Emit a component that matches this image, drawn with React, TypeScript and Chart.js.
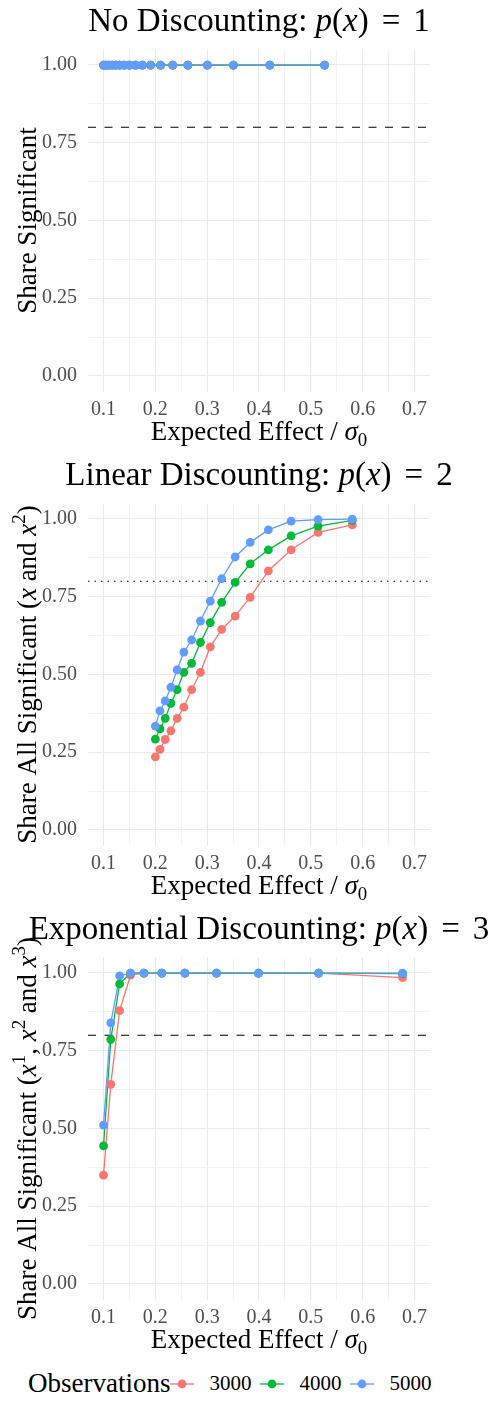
import React, { useEffect, useRef } from 'react';
import { Chart, registerables } from 'chart.js';

Chart.register(...registerables);

// ---- Data ----------------------------------------------------------------

const seriesLabels = ['3000', '4000', '5000'];
const seriesColors = ['#F8766D', '#00BA38', '#619CFF'];

// No discounting
const noDiscX = [0.1, 0.105, 0.1105, 0.1167, 0.1235, 0.1313, 0.14, 0.15, 0.1616, 0.1751, 0.191, 0.2101, 0.2335, 0.2628, 0.3004, 0.3506, 0.4209, 0.5265];
const noDisc3000 = [1, 1, 1, 1, 1, 1, 1, 1, 1, 1, 1, 1, 1, 1, 1, 1, 1, 1];
const noDisc4000 = [1, 1, 1, 1, 1, 1, 1, 1, 1, 1, 1, 1, 1, 1, 1, 1, 1, 1];
const noDisc5000 = [1, 1, 1, 1, 1, 1, 1, 1, 1, 1, 1, 1, 1, 1, 1, 1, 1, 1];

// Linear discounting
const linX = [0.2, 0.209, 0.219, 0.23, 0.242, 0.255, 0.27, 0.287, 0.306, 0.328, 0.354, 0.383, 0.418, 0.462, 0.514, 0.58];
const lin3000 = [0.235, 0.259, 0.291, 0.319, 0.359, 0.395, 0.451, 0.507, 0.589, 0.645, 0.688, 0.748, 0.833, 0.901, 0.957, 0.981];
const lin4000 = [0.292, 0.325, 0.359, 0.407, 0.451, 0.507, 0.536, 0.603, 0.667, 0.732, 0.796, 0.856, 0.901, 0.946, 0.977, 0.996];
const lin5000 = [0.334, 0.383, 0.415, 0.459, 0.515, 0.572, 0.611, 0.672, 0.736, 0.808, 0.878, 0.925, 0.965, 0.993, 0.998, 1.0];

// Exponential discounting
const expX = [0.1, 0.114, 0.131, 0.152, 0.178, 0.2125, 0.257, 0.318, 0.399, 0.515, 0.677];
const exp3000 = [0.35, 0.642, 0.879, 0.993, 1, 1, 1, 1, 1, 1, 0.985];
const exp4000 = [0.444, 0.787, 0.965, 1, 1, 1, 1, 1, 1, 1, 0.998];
const exp5000 = [0.511, 0.84, 0.991, 1, 1, 1, 1, 1, 1, 1, 1];

// Power threshold
const powerTarget = 0.8;

// Axes
const xLimits = [0.07, 0.73];
const yLimits = [-0.05, 1.05];
const xMajorTicks = [0.1, 0.2, 0.3, 0.4, 0.5, 0.6, 0.7];
const xMajorLabels = ['0.1', '0.2', '0.3', '0.4', '0.5', '0.6', '0.7'];
const xMinorTicks = [0.15, 0.25, 0.35, 0.45, 0.55, 0.65];
const yMajorTicks = [0, 0.25, 0.5, 0.75, 1];
const yMajorLabels = ['0.00', '0.25', '0.50', '0.75', '1.00'];
const yMinorTicks = [0.125, 0.375, 0.625, 0.875];

// ---- Rich text helpers -----------------------------------------------------

const FONT = '"Liberation Serif", "DejaVu Serif", serif';

type Part = { t?: string; it?: boolean; sup?: boolean; sub?: boolean; gap?: number };

function drawRich(ctx: CanvasRenderingContext2D, parts: Part[], cx: number, cy: number, size: number, rotate = false) {
  ctx.save();
  ctx.translate(cx, cy);
  if (rotate) ctx.rotate(-Math.PI / 2);
  const fontFor = (p: Part) => `${p.it ? 'italic ' : ''}${p.sup || p.sub ? size * 0.7 : size}px ${FONT}`;
  const widths = parts.map((p) => {
    if (p.gap !== undefined) return p.gap;
    ctx.font = fontFor(p);
    return ctx.measureText(p.t || '').width;
  });
  const total = widths.reduce((a, b) => a + b, 0);
  let x = -total / 2;
  ctx.fillStyle = '#000';
  ctx.textAlign = 'left';
  ctx.textBaseline = 'alphabetic';
  parts.forEach((p, i) => {
    if (p.t) {
      ctx.font = fontFor(p);
      const dy = p.sup ? -size * 0.42 : p.sub ? size * 0.22 : 0;
      ctx.fillText(p.t, x, dy);
    }
    x += widths[i];
  });
  ctx.restore();
}

const mathTail = (n: string): Part[] => [
  { t: 'p', it: true },
  { t: '(' },
  { t: 'x', it: true },
  { t: ')' },
  { gap: 13 },
  { t: '=' },
  { gap: 13 },
  { t: n },
];

const xTitle: Part[] = [{ t: 'Expected Effect / ' }, { t: 'σ', it: true }, { t: '0', sub: true }];

type PanelCfg = {
  title: Part[];
  yTitle: Part[];
  xs: number[];
  series: number[][];
  dash: number[];
};

const panels: PanelCfg[] = [
  {
    title: [{ t: 'No Discounting: ' }, ...mathTail('1')],
    yTitle: [{ t: 'Share Significant' }],
    xs: noDiscX,
    series: [noDisc3000, noDisc4000, noDisc5000],
    dash: [8, 8.5],
  },
  {
    title: [{ t: 'Linear Discounting: ' }, ...mathTail('2')],
    yTitle: [
      { t: 'Share All Significant (' },
      { t: 'x', it: true },
      { t: ' and ' },
      { t: 'x', it: true },
      { t: '2', sup: true },
      { t: ')' },
    ],
    xs: linX,
    series: [lin3000, lin4000, lin5000],
    dash: [1.5, 5],
  },
  {
    title: [{ t: 'Exponential Discounting: ' }, ...mathTail('3')],
    yTitle: [
      { t: 'Share All Significant (' },
      { t: 'x', it: true },
      { t: '1', sup: true },
      { t: ', ' },
      { t: 'x', it: true },
      { t: '2', sup: true },
      { t: ' and ' },
      { t: 'x', it: true },
      { t: '3', sup: true },
      { t: ')' },
    ],
    xs: expX,
    series: [exp3000, exp4000, exp5000],
    dash: [8, 8.5],
  },
];

// ---- Layout ------------------------------------------------------------------

const W = 493;
const PANEL_H = 454;
const PLOT_LEFT = 88;
const PLOT_RIGHT = 430;
const PLOT_TOP = 49.5;
const PLOT_BOTTOM = 391.5;
const PANEL_CX = (PLOT_LEFT + PLOT_RIGHT) / 2;
const TICK_COLOR = '#4D4D4D';

const isIn = (arr: number[], v: number) => arr.some((a) => Math.abs(a - v) < 1e-9);

function Panel({ cfg }: { cfg: PanelCfg }) {
  const ref = useRef<HTMLCanvasElement>(null);

  useEffect(() => {
    if (!ref.current) return;

    const lineSets = cfg.series.map((ys, i) => ({
      type: 'line' as const,
      data: cfg.xs.map((x, j) => ({ x, y: ys[j] })),
      borderColor: seriesColors[i],
      borderWidth: 1.3,
      pointRadius: 0,
      fill: false,
      tension: 0,
      order: 5 - i,
    }));
    const pointSets = cfg.series.map((ys, i) => ({
      type: 'line' as const,
      data: cfg.xs.map((x, j) => ({ x, y: ys[j] })),
      showLine: false,
      pointRadius: 4.4,
      pointBackgroundColor: seriesColors[i],
      pointBorderColor: seriesColors[i],
      pointBorderWidth: 0,
      order: 2 - i,
    }));
    const refLine = {
      type: 'line' as const,
      data: [
        { x: xLimits[0], y: powerTarget },
        { x: xLimits[1], y: powerTarget },
      ],
      borderColor: '#000',
      borderWidth: 1.1,
      borderDash: cfg.dash,
      pointRadius: 0,
      fill: false,
      order: 10,
    };

    const titlePlugin = {
      id: 'richTitles',
      afterDraw(chart: any) {
        const ctx = chart.ctx as CanvasRenderingContext2D;
        drawRich(ctx, cfg.title, PANEL_CX, 31, 33);
        drawRich(ctx, xTitle, PANEL_CX, 440, 27);
        drawRich(ctx, cfg.yTitle, 36, (PLOT_TOP + PLOT_BOTTOM) / 2, 27, true);
      },
    };

    const chart = new Chart(ref.current, {
      type: 'line',
      data: { datasets: [refLine, ...lineSets, ...pointSets] as any },
      options: {
        animation: false,
        responsive: false,
        devicePixelRatio: 1,
        layout: { padding: { top: PLOT_TOP, right: W - PLOT_RIGHT, bottom: 0, left: 0 } },
        plugins: { legend: { display: false }, tooltip: { enabled: false }, title: { display: false } },
        scales: {
          x: {
            type: 'linear',
            min: xLimits[0],
            max: xLimits[1],
            afterBuildTicks: (s: any) => {
              s.ticks = [...xMajorTicks, ...xMinorTicks].sort((a, b) => a - b).map((v) => ({ value: v }));
            },
            afterFit: (s: any) => {
              s.height = PANEL_H - PLOT_BOTTOM;
            },
            ticks: {
              autoSkip: false,
              maxRotation: 0,
              minRotation: 0,
              padding: 6,
              color: TICK_COLOR,
              font: { family: FONT, size: 20 },
              callback: (v: any) => {
                const k = xMajorTicks.findIndex((m) => Math.abs(m - v) < 1e-9);
                return k >= 0 ? xMajorLabels[k] : '';
              },
            },
            grid: {
              drawTicks: false,
              color: (c: any) => (isIn(xMajorTicks, c.tick.value) ? '#E9E9E9' : '#F0F0F0'),
              lineWidth: (c: any) => (isIn(xMajorTicks, c.tick.value) ? 1.1 : 0.9),
            },
            border: { display: false },
          },
          y: {
            type: 'linear',
            min: yLimits[0],
            max: yLimits[1],
            afterBuildTicks: (s: any) => {
              s.ticks = [...yMajorTicks, ...yMinorTicks].sort((a, b) => a - b).map((v) => ({ value: v }));
            },
            afterFit: (s: any) => {
              s.width = PLOT_LEFT;
            },
            ticks: {
              autoSkip: false,
              padding: 11,
              color: TICK_COLOR,
              font: { family: FONT, size: 20 },
              callback: (v: any) => {
                const k = yMajorTicks.findIndex((m) => Math.abs(m - v) < 1e-9);
                return k >= 0 ? yMajorLabels[k] : '';
              },
            },
            grid: {
              drawTicks: false,
              color: (c: any) => (isIn(yMajorTicks, c.tick.value) ? '#E9E9E9' : '#F0F0F0'),
              lineWidth: (c: any) => (isIn(yMajorTicks, c.tick.value) ? 1.1 : 0.9),
            },
            border: { display: false },
          },
        },
      },
      plugins: [titlePlugin],
    });

    return () => chart.destroy();
  }, [cfg]);

  return <canvas ref={ref} width={W} height={PANEL_H} style={{ display: 'block', width: W, height: PANEL_H }} />;
}

function Legend() {
  return (
    <div
      style={{
        display: 'flex',
        alignItems: 'center',
        height: 43,
        paddingLeft: 28,
        fontFamily: FONT,
        color: '#000',
        boxSizing: 'border-box',
      }}
    >
      <span style={{ fontSize: 27, lineHeight: '43px' }}>Observations</span>
      {seriesLabels.map((lab, i) => (
        <React.Fragment key={lab}>
          <svg width={24} height={14} style={{ marginLeft: i === 0 ? 0 : 9, display: 'block' }}>
            <line x1={0} y1={7} x2={24} y2={7} stroke={seriesColors[i]} strokeWidth={1.3} />
            <circle cx={12} cy={7} r={4.4} fill={seriesColors[i]} />
          </svg>
          <span style={{ fontSize: 21, marginLeft: 15, lineHeight: '43px' }}>{lab}</span>
        </React.Fragment>
      ))}
    </div>
  );
}

export default function App() {
  return (
    <div style={{ position: 'absolute', left: 0, top: 0, width: W, height: 1405, background: '#fff' }}>
      {panels.map((p, i) => (
        <Panel key={i} cfg={p} />
      ))}
      <Legend />
    </div>
  );
}
